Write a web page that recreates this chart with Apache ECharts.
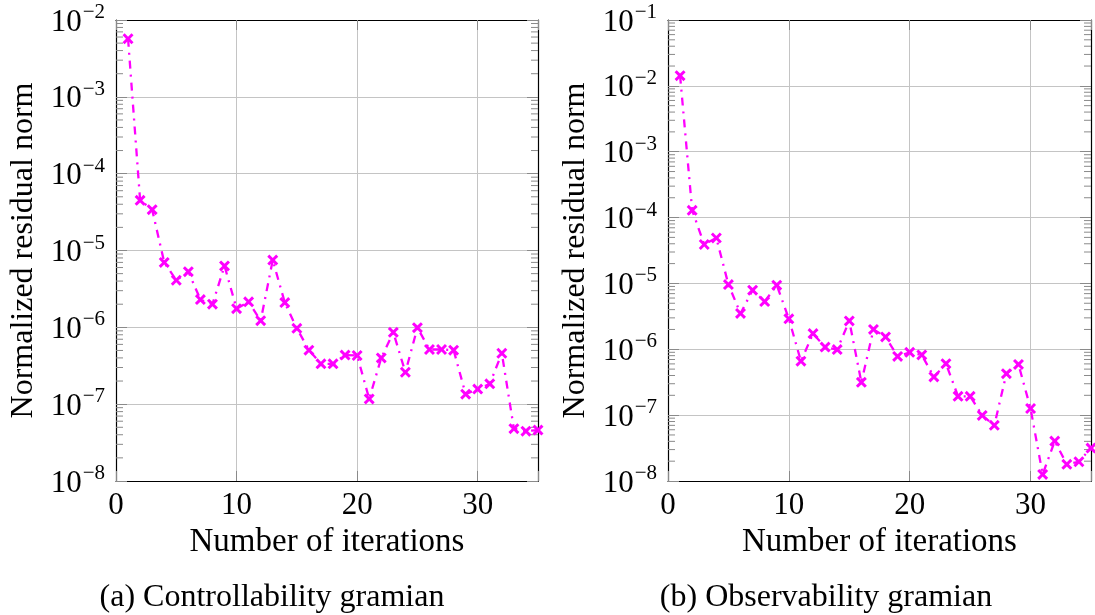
<!DOCTYPE html>
<html><head><meta charset="utf-8">
<script src="https://cdn.jsdelivr.net/npm/echarts@6/dist/echarts.min.js"></script>
<style>html,body{margin:0;padding:0;background:#fff}#c{width:1095px;height:615px}</style>
</head><body><div id="c"></div>
<script>
const iterations = [1,2,3,4,5,6,7,8,9,10,11,12,13,14,15,16,17,18,19,20,21,22,23,24,25,26,27,28,29,30,31,32,33,34,35];
const controllability = [5.7e-3,4.5e-5,3.4e-5,7.0e-6,4.1e-6,5.3e-6,2.3e-6,2.0e-6,6.3e-6,1.75e-6,2.15e-6,1.22e-6,7.5e-6,2.1e-6,9.7e-7,5.05e-7,3.35e-7,3.35e-7,4.35e-7,4.3e-7,1.17e-7,4.0e-7,8.6e-7,2.6e-7,9.9e-7,5.15e-7,5.15e-7,5.05e-7,1.35e-7,1.57e-7,1.84e-7,4.6e-7,4.8e-8,4.45e-8,4.6e-8];
const observability = [1.43e-2,1.29e-4,3.9e-5,4.9e-5,9.6e-6,3.5e-6,7.9e-6,5.3e-6,9.4e-6,2.9e-6,6.6e-7,1.73e-6,1.08e-6,9.9e-7,2.7e-6,3.15e-7,2.0e-6,1.54e-6,7.8e-7,9.0e-7,8.2e-7,3.8e-7,6.05e-7,1.93e-7,1.93e-7,9.9e-8,7.0e-8,4.26e-7,5.9e-7,1.26e-7,1.26e-8,4.04e-8,1.79e-8,1.96e-8,3.16e-8];
const xTickLabels = [0,10,20,30];
const xRange = [0,35];
const leftYRange = [1e-8,1e-2];
const rightYRange = [1e-8,1e-1];
const minorMultipliers = [2,3,4,5,6,7,8,9];
const leftDecades = [-8,-7,-6,-5,-4,-3];
const rightDecades = [-8,-7,-6,-5,-4,-3,-2];
const captions = ['(a) Controllability gramian','(b) Observability gramian'];
const xName = 'Number of iterations';
const yName = 'Normalized residual norm';

const FONT = 'Liberation Serif';
const MAG = '#ff00ff';
const GRIDC = '#c4c4c4';
const TICKC = '#8a8a8a';
const XMARK = 'path://M0,1.9L1.9,0L5,3.1L8.1,0L10,1.9L6.9,5L10,8.1L8.1,10L5,6.9L1.9,10L0,8.1L3.1,5Z';

function minorValues(decades){
  const out=[];
  decades.forEach(d=>minorMultipliers.forEach(m=>out.push([xRange[0], m*Math.pow(10,d)])));
  return out;
}
const yFmt = v => { const e = Math.round(Math.log10(v)); return '{b|10}{s|\u2212' + (-e) + '}'; };
const yRich = {
  b:{fontFamily:FONT,fontSize:31,color:'#000',lineHeight:36,verticalAlign:'bottom'},
  s:{fontFamily:FONT,fontSize:21,color:'#000',lineHeight:21,verticalAlign:'top',padding:[0,0,0,1]}
};

function xAxes(gi){
  return [
    {type:'value',gridIndex:gi,min:xRange[0],max:xRange[1],interval:10,position:'bottom',
     axisLine:{show:true,onZero:false,lineStyle:{color:'#000',width:1.2}},
     axisTick:{show:true,inside:true,length:10,lineStyle:{color:TICKC}},
     axisLabel:{show:true,margin:9,fontFamily:FONT,fontSize:31,color:'#000',
       formatter:v=>xTickLabels.indexOf(v)>=0?String(v):''},
     splitLine:{show:true,lineStyle:{color:GRIDC,width:1}},
     name:xName,nameLocation:'middle',nameGap:44,
     nameTextStyle:{fontFamily:FONT,fontSize:33,color:'#000'}},
    {type:'value',gridIndex:gi,min:xRange[0],max:xRange[1],interval:10,position:'top',
     axisLine:{show:true,onZero:false,lineStyle:{color:'#000',width:1.2}},
     axisTick:{show:true,inside:true,length:10,lineStyle:{color:TICKC}},
     axisLabel:{show:false},splitLine:{show:false}}
  ];
}
function yAxes(gi,range,split){
  return [
    {type:'log',logBase:10,gridIndex:gi,min:range[0],max:range[1],splitNumber:split,position:'left',
     axisLine:{show:true,onZero:false,lineStyle:{color:'#000',width:1.2}},
     axisTick:{show:true,inside:true,length:11,lineStyle:{color:TICKC}},
     axisLabel:{show:true,margin:11,formatter:yFmt,rich:yRich},
     splitLine:{show:true,lineStyle:{color:GRIDC,width:1}},
     name:yName,nameLocation:'middle',nameGap:76,
     nameTextStyle:{fontFamily:FONT,fontSize:32,color:'#000'}},
    {type:'log',logBase:10,gridIndex:gi,min:range[0],max:range[1],splitNumber:split,position:'right',
     axisLine:{show:true,onZero:false,lineStyle:{color:'#000',width:1.2}},
     axisTick:{show:true,inside:true,length:11,lineStyle:{color:TICKC}},
     axisLabel:{show:false},splitLine:{show:false}}
  ];
}
function minorTickSeries(xi,yi,decades){
  return {type:'custom',xAxisIndex:xi,yAxisIndex:yi,silent:true,z:3,clip:false,
    encode:{x:0,y:1},data:minorValues(decades),
    renderItem:(params,api)=>{
      const v=api.value(1);
      const pl=api.coord([xRange[0],v]);
      const pr=api.coord([xRange[1],v]);
      return {type:'group',children:[
        {type:'line',shape:{x1:pl[0],y1:pl[1],x2:pl[0]+7,y2:pl[1]},style:{stroke:TICKC,lineWidth:1}},
        {type:'line',shape:{x1:pr[0]-7,y1:pr[1],x2:pr[0],y2:pr[1]},style:{stroke:TICKC,lineWidth:1}}
      ]};
    }};
}
function lineSeries(xi,yi,vals){
  return {type:'line',xAxisIndex:xi,yAxisIndex:yi,z:5,
    data:iterations.map((it,i)=>[it,vals[i]]),
    symbol:XMARK,symbolSize:11,showSymbol:true,
    itemStyle:{color:MAG},
    lineStyle:{color:MAG,width:2.3,type:[8,6,2,6]},
    animation:false};
}

const chart = echarts.init(document.getElementById('c'),null,{renderer:'canvas'});
chart.setOption({
  animation:false,
  backgroundColor:'#fff',
  grid:[
    {left:116,top:20,width:422,height:461,containLabel:false},
    {left:668,top:20,width:423,height:461,containLabel:false}
  ],
  xAxis:[...xAxes(0),...xAxes(1)],
  yAxis:[...yAxes(0,leftYRange,6),...yAxes(1,rightYRange,7)],
  series:[
    minorTickSeries(0,0,leftDecades),
    minorTickSeries(2,2,rightDecades),
    lineSeries(0,0,controllability),
    lineSeries(2,2,observability)
  ],
  graphic:[
    {type:'text',x:272,y:598,style:{text:captions[0],fontFamily:FONT,fontSize:32,fill:'#000',textAlign:'center',textVerticalAlign:'middle'}},
    {type:'text',x:826,y:598,style:{text:captions[1],fontFamily:FONT,fontSize:32,fill:'#000',textAlign:'center',textVerticalAlign:'middle'}}
  ]
});
</script></body></html>
